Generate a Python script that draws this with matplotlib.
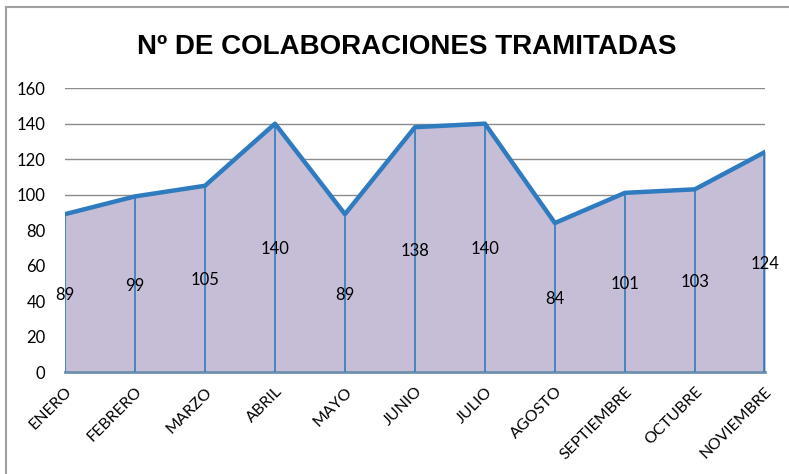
import numpy as np
import matplotlib.pyplot as plt
from matplotlib.patches import Rectangle

meses = ['ENERO', 'FEBRERO', 'MARZO', 'ABRIL', 'MAYO', 'JUNIO', 'JULIO',
         'AGOSTO', 'SEPTIEMBRE', 'OCTUBRE', 'NOVIEMBRE']
valores = [89, 99, 105, 140, 89, 138, 140, 84, 101, 103, 124]
yticks = [0, 20, 40, 60, 80, 100, 120, 140, 160]

plt.rcParams['font.family'] = ['Lato', 'DejaVu Sans']

fig = plt.figure(figsize=(7.89, 4.74), dpi=100)
ax = fig.add_axes([0.0824, 0.215, 0.887, 0.599])

x = np.arange(len(meses))
ax.fill_between(x, valores, 0, color='#c6bdd7', zorder=2)
ax.plot(x, valores, color='#2f7bc0', lw=3.2, zorder=4)
ax.vlines(x[:-1], 0, valores[:-1], color='#2f7bc0', lw=1.2, zorder=3)
# right edge of the area is drawn thicker
ax.vlines(x[-1], 0, valores[-1], color='#2f7bc0', lw=2.6, zorder=3)

for xi, v in zip(x, valores):
    ax.text(xi, v / 2, str(v), ha='center', va='center_baseline', fontsize=12, zorder=6)

ax.set_xlim(0, len(meses) - 1)
ax.set_ylim(0, 160)
ax.set_yticks(yticks)
ax.yaxis.grid(True, color='#8c8c8c', lw=1)
ax.set_axisbelow(True)
ax.set_xticks(x)
ax.set_xticklabels(meses, rotation=45, ha='right', rotation_mode='anchor')
ax.tick_params(axis='both', length=0)
ax.tick_params(axis='x', pad=9, labelsize=11.5)
ax.tick_params(axis='y', pad=14, labelsize=12)
for s in ['top', 'right', 'left']:
    ax.spines[s].set_visible(False)
ax.spines['bottom'].set_color('#6f8fae')
ax.spines['bottom'].set_linewidth(2)

fig.text(0.515, 0.9, 'Nº DE COLABORACIONES TRAMITADAS', ha='center', va='center',
         fontsize=20, fontweight='bold',
         family=['Liberation Sans Narrow', 'Liberation Sans', 'DejaVu Sans'])

fig.patches.append(Rectangle((0.007, -0.01), 1.0, 0.995, transform=fig.transFigure,
                             fill=False, edgecolor='#a0a0a0', lw=1.5))

fig.savefig('out.png', dpi=100)
